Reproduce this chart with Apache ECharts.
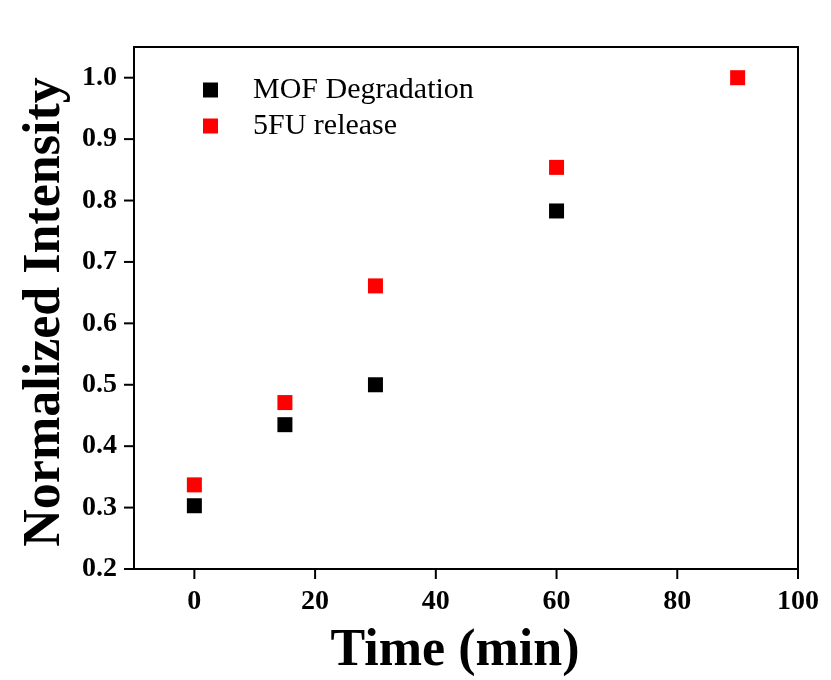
<!DOCTYPE html>
<html><head><meta charset="utf-8">
<script src="https://cdn.jsdelivr.net/npm/echarts@6/dist/echarts.min.js"></script>
<style>html,body{margin:0;padding:0;background:#fff}#c{width:831px;height:680px}</style>
</head><body><div id="c"></div>
<script>
const timeMin = [0, 15, 30, 60, 90];
const mofDegradation = [0.303, 0.435, 0.500, 0.783];
const fuRelease = [0.337, 0.471, 0.661, 0.854, 1.000];
const xTicks = [0, 20, 40, 60, 80, 100];
const yTicks = [0.2, 0.3, 0.4, 0.5, 0.6, 0.7, 0.8, 0.9, 1.0];
const xTitle = 'Time (min)';
const yTitle = 'Normalized Intensity';
const seriesNames = ['MOF Degradation', '5FU release'];

const serif = '"Liberation Serif","Times New Roman",serif';
const Y_MIN = 0.2, X_MIN = -10;
// tick marks: [x, y, which] -> which 0 = bottom axis tick, 1 = left axis tick
const tickData = xTicks.map(v => [v, 0.5, 0]).concat(yTicks.map(v => [20, v, 1]));
const chart = echarts.init(document.getElementById('c'));
chart.setOption({
  backgroundColor: '#fff',
  animation: false,
  grid: {left: 134, right: 33, top: 47, bottom: 111, show: true, borderColor: '#000', borderWidth: 2,
         backgroundColor: 'transparent', containLabel: false, outerBoundsMode: 'none'},
  legend: {
    orient: 'vertical', left: 198, top: 70, itemWidth: 15, itemHeight: 15, itemGap: 6, icon: 'rect',
    textStyle: {fontFamily: serif, fontSize: 30, lineHeight: 30, color: '#000', padding: [0, 0, 0, 30]},
    data: seriesNames
  },
  xAxis: {
    type: 'value', min: X_MIN, max: 100, interval: 20,
    axisLine: {onZero: false, lineStyle: {color: '#000', width: 2}},
    axisTick: {show: false},
    axisLabel: {fontFamily: serif, fontWeight: 'bold', fontSize: 28, color: '#000', margin: 19, customValues: xTicks},
    splitLine: {show: false},
    name: xTitle, nameLocation: 'middle', nameGap: 57,
    nameTextStyle: {fontFamily: serif, fontWeight: 'bold', fontSize: 52, color: '#000', padding: [0, 22, 0, 0]}
  },
  yAxis: {
    type: 'value', min: Y_MIN, max: 1.05, interval: 0.1,
    axisLine: {onZero: false, lineStyle: {color: '#000', width: 2}},
    axisTick: {show: false},
    axisLabel: {fontFamily: serif, fontWeight: 'bold', fontSize: 28, color: '#000', margin: 17,
      customValues: yTicks, formatter: v => v.toFixed(1)},
    splitLine: {show: false},
    name: yTitle, nameLocation: 'middle', nameGap: 44, nameRotate: 90,
    nameTextStyle: {fontFamily: serif, fontWeight: 'bold', fontSize: 52, color: '#000', padding: [0, 8, 0, 0]}
  },
  series: [
    {name: seriesNames[0], type: 'scatter', symbol: 'rect', symbolSize: 15, itemStyle: {color: '#000', opacity: 1},
     data: mofDegradation.map((v, i) => [timeMin[i], v])},
    {name: seriesNames[1], type: 'scatter', symbol: 'rect', symbolSize: 15, itemStyle: {color: '#ff0000', opacity: 1},
     data: fuRelease.map((v, i) => [timeMin[i], v])},
    {type: 'custom', silent: true, clip: false, z: 1,
     dimensions: ['x', 'y', 'k'], encode: {x: 0, y: 1},
     data: tickData,
     renderItem: (params, api) => {
       const p = api.coord([api.value(0), api.value(1)]);
       const cs = params.coordSys;
       if (api.value(2) === 0) {
         const yb = cs.y + cs.height;
         return {type: 'line', shape: {x1: p[0], y1: yb, x2: p[0], y2: yb + 10}, style: {stroke: '#000', lineWidth: 2}};
       }
       return {type: 'line', shape: {x1: cs.x, y1: p[1], x2: cs.x - 10, y2: p[1]}, style: {stroke: '#000', lineWidth: 2}};
     }}
  ]
});
</script></body></html>
